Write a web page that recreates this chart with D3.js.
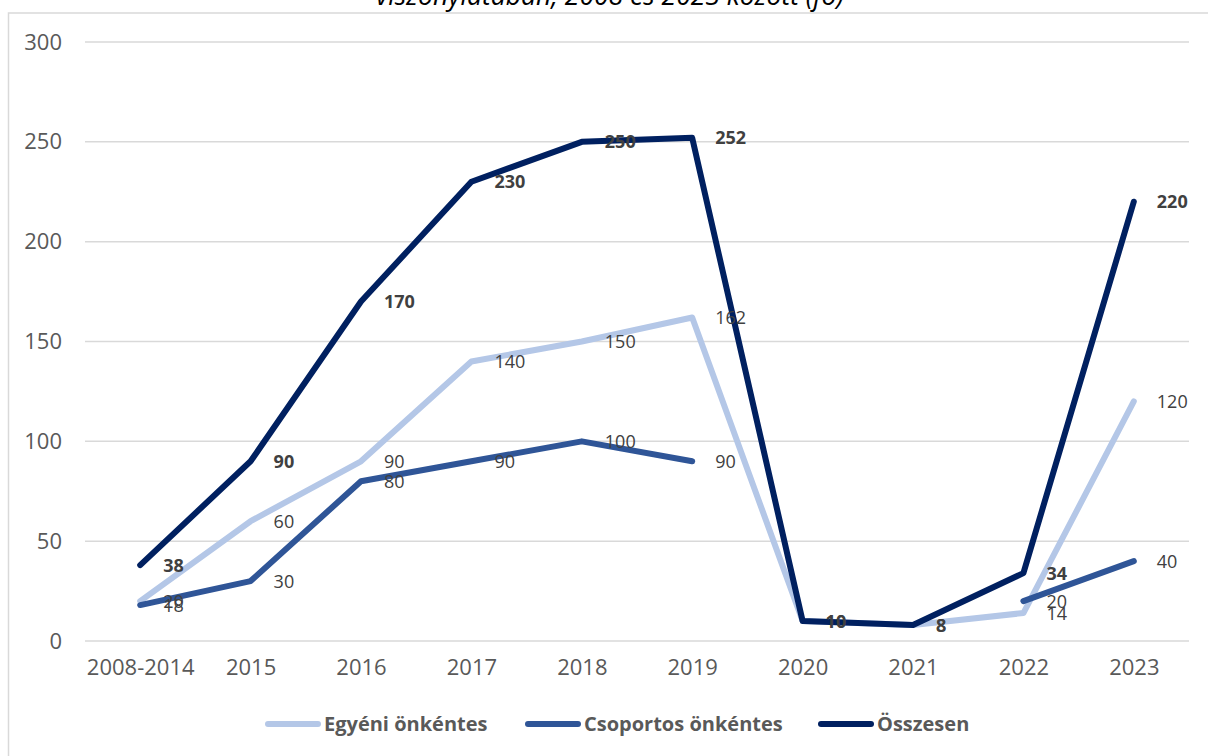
<!DOCTYPE html>
<html>
<head>
<meta charset="utf-8">
<script src="https://cdn.jsdelivr.net/npm/d3@7"></script>
<style>
  body { margin: 0; background: #fff; }
  text { font-family: "Open Sans", "Noto Sans", sans-serif; }
</style>
</head>
<body>
<div id="chart"></div>
<script>
// data
var categories = ["2008-2014", "2015", "2016", "2017", "2018", "2019", "2020", "2021", "2022", "2023"];
var egyeni = [20, 60, 90, 140, 150, 162, 10, 8, 14, 120];
var csoportos = [18, 30, 80, 90, 100, 90, null, null, 20, 40];
var osszesen = [38, 90, 170, 230, 250, 252, 10, 8, 34, 220];
var yTicks = [0, 50, 100, 150, 200, 250, 300];

var series = [
    { name: "Egyéni önkéntes", values: egyeni, color: "#b4c7e7", bold: false },
    { name: "Csoportos önkéntes", values: csoportos, color: "#2f5597", bold: false },
    { name: "Összesen", values: osszesen, color: "#002060", bold: true }
];

var W = 1208, H = 756;

var svg = d3.select("#chart").append("svg")
    .attr("width", W)
    .attr("height", H);

// chart frame
svg.append("rect")
    .attr("x", 8.5).attr("y", 13)
    .attr("width", 1400).attr("height", 900)
    .attr("fill", "none")
    .attr("stroke", "#d9d9d9")
    .attr("stroke-width", 1.5);

// title (cut at top)
svg.append("text")
    .attr("x", 610).attr("y", 5)
    .attr("text-anchor", "middle")
    .style("font-style", "italic")
    .style("font-size", "26.5px")
    .attr("fill", "#000")
    .text("viszonylatában, 2008 és 2023 között (fő)");

var x = d3.scalePoint().domain(categories).range([85, 1189]).padding(0.5);
var y = d3.scaleLinear().domain([0, 300]).range([641, 42]);

// grid
svg.append("g")
    .selectAll("line")
    .data(yTicks)
    .enter().append("line")
    .attr("x1", 85).attr("x2", 1189)
    .attr("y1", function (d) { return y(d); })
    .attr("y2", function (d) { return y(d); })
    .attr("stroke", "#d9d9d9")
    .attr("stroke-width", 1.5);

// y axis
var yAxis = d3.axisLeft(y).tickValues(yTicks).tickSize(0).tickPadding(0);
svg.append("g")
    .attr("transform", "translate(62,0)")
    .call(yAxis)
    .call(function (g) { g.select(".domain").remove(); })
    .selectAll("text")
    .style("font-size", "22px")
    .style("font-family", "'Open Sans', sans-serif")
    .attr("fill", "#595959");

// x axis
var xAxis = d3.axisBottom(x).tickSize(0).tickPadding(0);
svg.append("g")
    .attr("transform", "translate(0,659)")
    .call(xAxis)
    .call(function (g) { g.select(".domain").remove(); })
    .selectAll("text")
    .style("font-size", "22px")
    .style("font-family", "'Open Sans', sans-serif")
    .attr("fill", "#595959");

// lines
var line = d3.line()
    .defined(function (d) { return d != null; })
    .x(function (d, i) { return x(categories[i]); })
    .y(function (d) { return y(d); });

series.forEach(function (s) {
    svg.append("path")
        .datum(s.values)
        .attr("d", line)
        .attr("fill", "none")
        .attr("stroke", s.color)
        .attr("stroke-width", 6)
        .attr("stroke-linecap", "round")
        .attr("stroke-linejoin", "round");
});

// data labels
series.forEach(function (s) {
    svg.append("g")
        .selectAll("text")
        .data(s.values.map(function (v, i) { return { v: v, c: categories[i] }; })
            .filter(function (d) { return d.v != null; }))
        .enter().append("text")
        .attr("x", function (d) { return x(d.c) + 23; })
        .attr("y", function (d) { return y(d.v); })
        .attr("dy", "0.36em")
        .style("font-size", "18px")
        .style("font-weight", s.bold ? "bold" : "normal")
        .attr("fill", "#404040")
        .text(function (d) { return d.v; });
});

// legend
var legendX = [265, 525, 818];
var legend = svg.selectAll(".legend")
    .data(series)
    .enter().append("g")
    .attr("class", "legend")
    .attr("transform", function (d, i) { return "translate(" + legendX[i] + ",724)"; });

legend.append("line")
    .attr("x1", 3).attr("x2", 53)
    .attr("y1", 0).attr("y2", 0)
    .attr("stroke", function (d) { return d.color; })
    .attr("stroke-width", 6)
    .attr("stroke-linecap", "round");

legend.append("text")
    .attr("x", 59)
    .attr("y", 0)
    .attr("dy", "0.36em")
    .style("font-size", "20px")
    .style("font-weight", "bold")
    .attr("fill", "#595959")
    .text(function (d) { return d.name; });
</script>
</body>
</html>
